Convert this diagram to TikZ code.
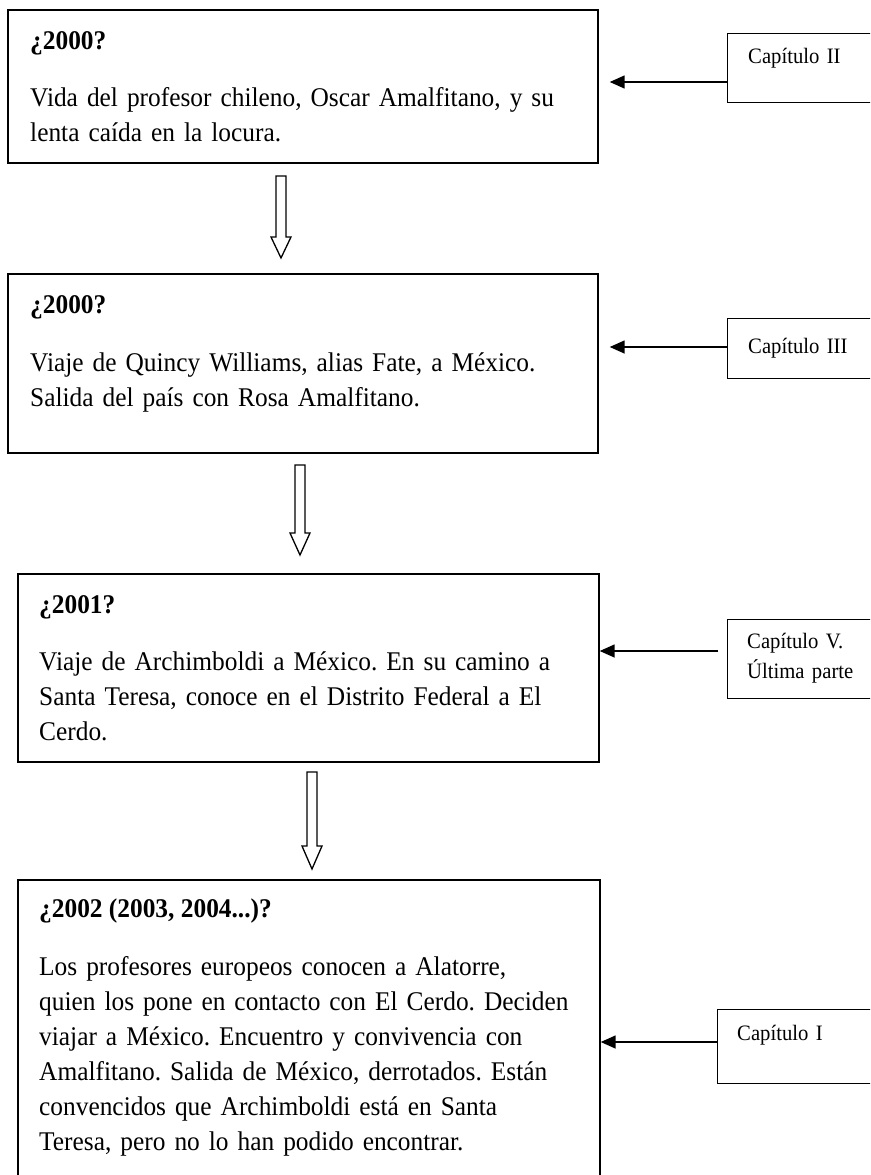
\documentclass[tikz,border=0pt]{standalone}
\usepackage{fontspec}
\setmainfont{Liberation Serif}[FakeStretch=0.94]
\usetikzlibrary{arrows.meta}
\frenchspacing
\tikzset{
caja/.style={draw,line width=1.7pt,anchor=north west,inner sep=0pt},
capcaja/.style={draw,line width=1.3pt,anchor=north west,inner sep=0pt,minimum width=200pt},
flecha/.style={line width=1.5pt,-{Triangle[length=15pt,width=13pt]}},
hueca/.style={line width=1.3pt,line join=miter},
titulo/.style={anchor=base west,inner sep=0pt,font=\fontsize{27}{35}\selectfont\bfseries},
texto/.style={anchor=base west,inner sep=0pt,text width=570pt,align=left,font=\fontsize{27}{35}\selectfont},
etiqueta/.style={anchor=base west,inner sep=0pt,text width=140pt,align=left,font=\fontsize{22}{30}\selectfont}
}
\newcommand{\flechahueca}[4]{\draw[hueca] (#1-5,#2) -- (#1+5,#2) -- (#1+5,#3) -- (#1+10,#3) -- (#1,#4) -- (#1-10,#3) -- (#1-5,#3) -- cycle;}
\begin{document}
\begin{tikzpicture}[x=1pt,y=-1pt]
\clip (0,0) rectangle (870,1175);
\fill[white] (0,0) rectangle (870,1175);
\node[caja,minimum width=590pt,minimum height=153pt] (b1) at (7,9) {};
\node[titulo] (t1) at (30,49) {¿2000?};
\node[texto] (x1) at (30,106) {Vida del profesor chileno, Oscar Amalfitano, y su\\lenta caída en la locura.};
\node[capcaja,minimum height=69pt] (c2) at (727,33) {};
\node[etiqueta] (e2) at (748,63) {Capítulo II};
\coordinate (p2) at (727,82);
\draw[flecha,shorten >=11pt] (p2) -- (p2 -| b1.east);
\flechahueca{281}{176}{237}{258}
\node[caja,minimum width=590pt,minimum height=179pt] (b2) at (7,273) {};
\node[titulo] (t2) at (30,313) {¿2000?};
\node[texto] (x2) at (30,371) {Viaje de Quincy Williams, alias Fate, a México.\\Salida del país con Rosa Amalfitano.};
\node[capcaja,minimum height=60pt] (c3) at (727,318) {};
\node[etiqueta] (e3) at (748,353) {Capítulo III};
\coordinate (p3) at (727,347);
\draw[flecha,shorten >=11pt] (p3) -- (p3 -| b2.east);
\flechahueca{300}{465}{533}{555}
\node[caja,minimum width=581pt,minimum height=188pt] (b3) at (17,573) {};
\node[titulo] (t3) at (39,613) {¿2001?};
\node[texto] (x3) at (39,670) {Viaje de Archimboldi a México. En su camino a\\Santa Teresa, conoce en el Distrito Federal a El\\Cerdo.};
\node[capcaja,minimum height=79pt] (c5) at (727,619) {};
\node[etiqueta] (e5) at (747,648) {Capítulo V.\\Última parte};
\coordinate (p5) at (718,651);
\draw[flecha] (p5) -- (p5 -| b3.east);
\flechahueca{312}{772}{846}{869}
\node[caja,minimum width=582pt,minimum height=340pt] (b4) at (17,879) {};
\node[titulo] (t4) at (39,917) {¿2002 (2003, 2004...)?};
\node[texto] (x4) at (39,975) {Los profesores europeos conocen a Alatorre,\\quien los pone en contacto con El Cerdo. Deciden\\viajar a México. Encuentro y convivencia con\\Amalfitano. Salida de México, derrotados. Están\\convencidos que Archimboldi está en Santa\\Teresa, pero no lo han podido encontrar.};
\node[capcaja,minimum height=74pt] (c1) at (717,1009) {};
\node[etiqueta] (e1) at (737,1040) {Capítulo I};
\coordinate (p1) at (717,1042);
\draw[flecha] (p1) -- (p1 -| b4.east);
\end{tikzpicture}
\end{document}
